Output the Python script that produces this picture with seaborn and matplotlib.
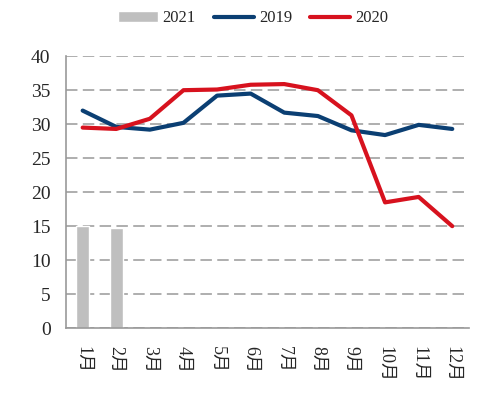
import pandas as pd
import matplotlib.pyplot as plt
import seaborn as sns
from matplotlib.ticker import FixedLocator

sns.set_style('white')
plt.rcParams['font.family'] = ['Liberation Serif', 'Noto Sans CJK SC']

# 데이터
months = ['1月', '2月', '3月', '4月', '5月', '6月', '7月', '8月', '9月', '10月', '11月', '12月']
v2019 = [32.0, 29.6, 29.2, 30.2, 34.2, 34.5, 31.7, 31.2, 29.1, 28.4, 29.9, 29.3]
v2020 = [29.5, 29.3, 30.8, 35.0, 35.1, 35.8, 35.9, 35.0, 31.3, 18.5, 19.3, 15.0]
months2021 = ['1月', '2月']
v2021 = [15.0, 14.7]

df21 = pd.DataFrame({'month': months2021, 'value': v2021})
df = pd.DataFrame({'pos': list(range(len(months))) * 2,
                   'value': v2019 + v2020,
                   'year': ['2019'] * 12 + ['2020'] * 12})

fig = plt.figure(figsize=(4.99, 3.93), dpi=100)
ax = fig.add_axes([0.132, 0.165, 0.808, 0.692])

sns.barplot(data=df21, x='month', y='value', order=months, color='#BFBFBF',
            width=0.38, saturation=1, ax=ax, label='2021', zorder=2)
sns.lineplot(data=df, x='pos', y='value', hue='year',
             palette={'2019': '#0B3F73', '2020': '#D7121E'},
             linewidth=3, ax=ax, zorder=3)

ax.set_xlim(-0.5, 11.5)
ax.set_ylim(0, 40)
ax.set_yticks(range(0, 41, 5))
ax.set_xticks(range(12))
ax.set_xticklabels(months, rotation=-90, fontsize=13)
ax.xaxis.set_minor_locator(FixedLocator([i - 0.5 for i in range(13)]))
ax.tick_params(axis='x', which='major', length=0, pad=13)
ax.tick_params(axis='x', which='minor', length=5, color='#999999', width=1, direction='out')
ax.tick_params(axis='y', length=5, color='#999999', width=1, labelsize=14, pad=6)
ax.yaxis.grid(True, linestyle=(0, (7.5, 3.5)), color='#999999', linewidth=1.1, zorder=0)
ax.set_axisbelow(True)
ax.set_xlabel('')
ax.set_ylabel('')

for s in ['top', 'right']:
    ax.spines[s].set_visible(False)
for s in ['left', 'bottom']:
    ax.spines[s].set_color('#999999')
    ax.spines[s].set_linewidth(1.2)

handles, labels = ax.get_legend_handles_labels()
order = [labels.index(l) for l in ['2021', '2019', '2020']]
ax.legend([handles[i] for i in order], [labels[i] for i in order],
          loc='center', bbox_to_anchor=(0.507, 0.953), bbox_transform=fig.transFigure,
          ncol=3, frameon=False, fontsize=12, handlelength=2.4, columnspacing=1.1,
          handletextpad=0.3)

plt.savefig('out.png', dpi=100)
